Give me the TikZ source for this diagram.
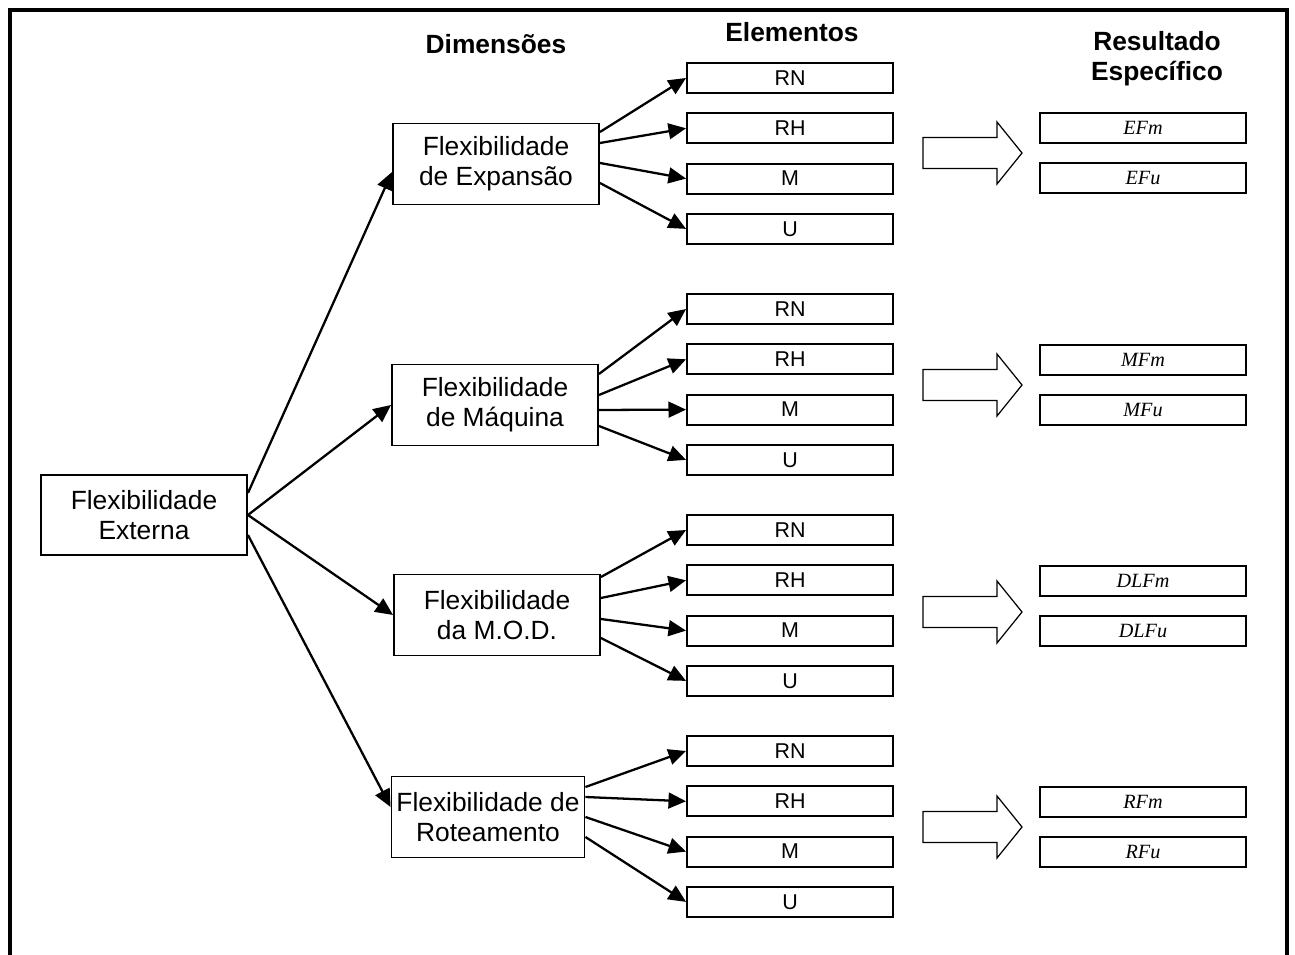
\documentclass[tikz,border=0pt]{standalone}
\usepackage{fontspec}
\setmainfont{Liberation Sans}
\newfontfamily\timesfont{Liberation Serif}
\usetikzlibrary{arrows.meta,calc}

\begin{document}
\begin{tikzpicture}[x=0.02cm,y=-0.02cm,
  caixa/.style={draw,line width=1.1pt,inner sep=0pt,align=center,
                minimum width=4.12cm,minimum height=1.62cm,
                font=\fontsize{15}{17}\selectfont},
  elem/.style={draw,line width=1.1pt,inner sep=0pt,minimum width=4.12cm,
               minimum height=0.6cm,font=\fontsize{12.2}{14}\selectfont},
  resul/.style={elem,font=\fontsize{11.5}{13}\selectfont\timesfont\itshape},
  titulo/.style={align=center,font=\fontsize{15}{17}\selectfont\bfseries},
  seta/.style={line width=1.3pt,-{Triangle[length=10pt,width=9pt]}},
  bloco/.style={draw,line width=0.7pt,line join=miter},
]
\useasboundingbox (0,0) rectangle (1295,955);
% frame, open at the bottom
\draw[line width=2.3pt] (10,960) -- (10,10) -- (1287,10) -- (1287,960);

% column titles
\node[titulo] (tdim) at (496,44) {Dimensões};
\node[titulo] (tele) at (792,32) {Elementos};
\node[titulo] (tres) at (1157,59) {Resultado\\Específico};

% root and dimensions
\node[caixa,minimum height=1.6cm] (ext) at (144,515) {Flexibilidade\\Externa};
\node[caixa] (d1) at (496,164) {Flexibilidade\\de Expansão};
\node[caixa] (d2) at (495,405) {Flexibilidade\\de Máquina};
\node[caixa] (d3) at (497,615) {Flexibilidade\\da M.O.D.};
\node[caixa,minimum width=3.86cm] (d4) at (488,817) {Flexibilidade de\\Roteamento};

\draw[seta] ($(ext.east)+(0,-22)$) -- ($(d1.west)+(0,8)$);
\draw[seta] (ext.east) -- (d2.west);
\draw[seta] (ext.east) -- (d3.west);
\draw[seta] ($(ext.east)+(0,20)$) -- ($(d4.west)+(0,-10)$);

% elements of each dimension
\foreach \g/\y in {1/78,2/309,3/530,4/751}
  \foreach \t [count=\i] in {RN,RH,M,U}
    \node[elem] (e\g\i) at (790,{\y+50.3*(\i-1)}) {\t};

\foreach \g/\a/\b/\c/\d in {1/-32/-21/-1/19,2/-31/-10/5/21,3/-38/-17/4/23,4/-30/-20/0/20}
  \foreach \i/\o in {1/\a,2/\b,3/\c,4/\d}
    \draw[seta] ($(d\g.east)+(0,\o)$) -- (e\g\i.west);

% specific results
\foreach \g/\y/\n in {1/128/EF,2/360/MF,3/581/DLF,4/802/RF}{
  \node[resul] (rm\g) at (1143,\y) {\n m};
  \node[resul] (ru\g) at (1143,\y+50.3) {\n u};
}

% block arrows
\foreach \c in {153,385,612,827}
  \draw[bloco] (923,\c-15.5) -- (997,\c-15.5) -- (997,\c-31) -- (1022,\c)
    -- (997,\c+31) -- (997,\c+15.5) -- (923,\c+15.5) -- cycle;
\end{tikzpicture}
\end{document}
